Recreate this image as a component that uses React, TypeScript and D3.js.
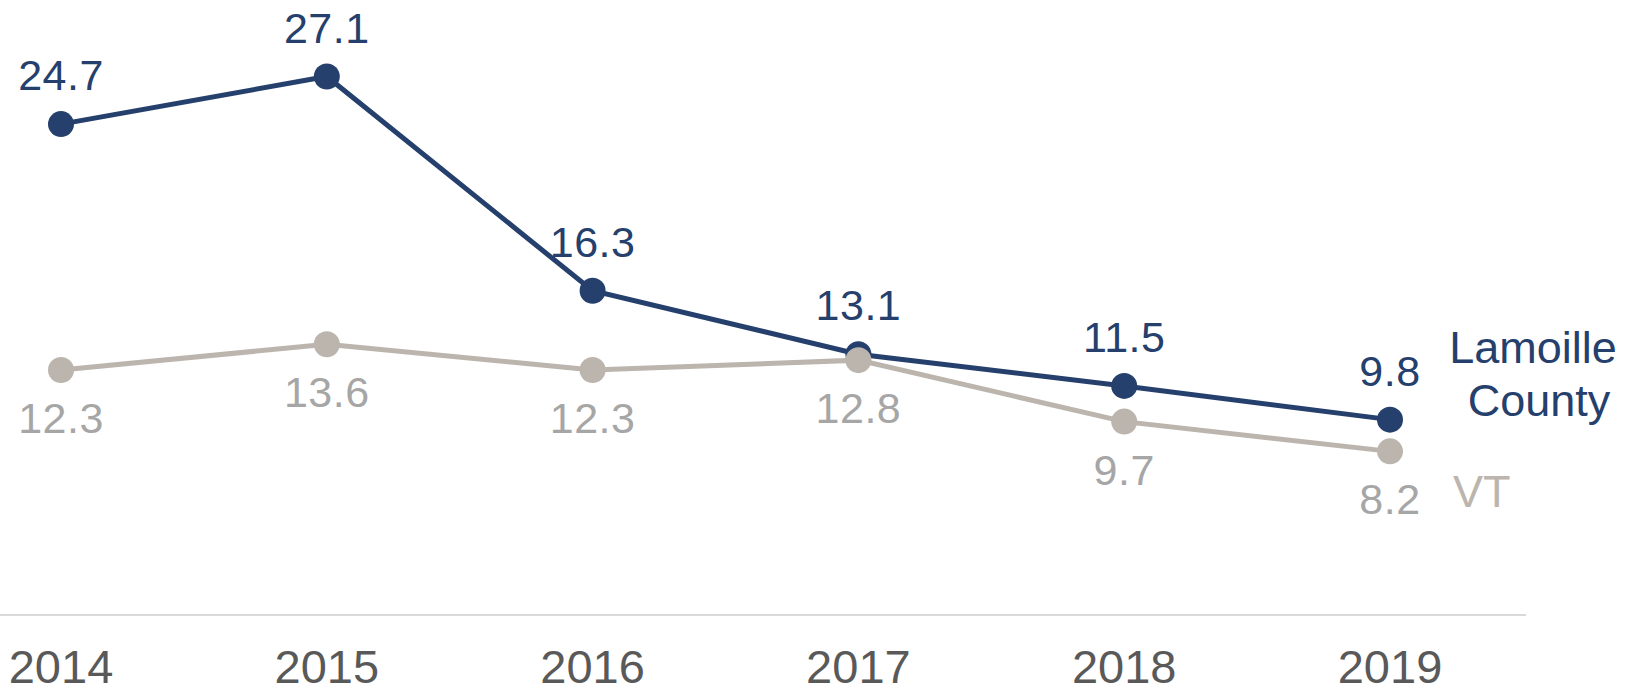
import React from "react";
import * as d3 from "d3";

const years = ["2014", "2015", "2016", "2017", "2018", "2019"];
const lamoille = [24.7, 27.1, 16.3, 13.1, 11.5, 9.8];
const vt = [12.3, 13.6, 12.3, 12.8, 9.7, 8.2];

const W = 1641;
const H = 694;
const NAVY = "#25406C";
const GRAY = "#BBB5AE";
const GRAY_TEXT = "#A6A6A6";
const FONT = "'Liberation Sans', Arial, sans-serif";

export default function App() {
  const x = d3.scalePoint<string>().domain(years).range([61, 1390]);
  const y = d3.scaleLinear().domain([0, 30]).range([614, 19]);
  const line = d3
    .line<number>()
    .x((_, i) => x(years[i]) as number)
    .y((d) => y(d));

  return (
    <svg
      width={W}
      height={H}
      style={{ position: "absolute", left: 0, top: 0, display: "block", background: "#fff" }}
      fontFamily={FONT}
    >
      <line x1={0} x2={1526} y1={y(0) + 1} y2={y(0) + 1} stroke="#D9D9D9" strokeWidth={2} />
      {years.map((yr) => (
        <text key={yr} x={x(yr)} y={683} textAnchor="middle" fontSize={47} fill="#595959">
          {yr}
        </text>
      ))}

      <path d={line(lamoille) || ""} fill="none" stroke={NAVY} strokeWidth={5} />
      {lamoille.map((v, i) => (
        <g key={"l" + i}>
          <circle cx={x(years[i])} cy={y(v)} r={13} fill={NAVY} />
          <text x={x(years[i])} y={y(v) - 34} textAnchor="middle" fontSize={43} fill={NAVY} letterSpacing={0.5}>
            {v.toFixed(1)}
          </text>
        </g>
      ))}

      <path d={line(vt) || ""} fill="none" stroke={GRAY} strokeWidth={5} />
      {vt.map((v, i) => (
        <g key={"v" + i}>
          <circle cx={x(years[i])} cy={y(v)} r={13} fill={GRAY} />
          <text x={x(years[i])} y={y(v) + 63} textAnchor="middle" fontSize={43} fill={GRAY_TEXT} letterSpacing={0.5}>
            {v.toFixed(1)}
          </text>
        </g>
      ))}

      <text x={1533} y={363} textAnchor="middle" fontSize={45} fill={NAVY}>
        Lamoille
      </text>
      <text x={1539} y={416} textAnchor="middle" fontSize={45} fill={NAVY}>
        County
      </text>
      <text x={1453} y={507} textAnchor="start" fontSize={45} fill={GRAY}>
        VT
      </text>
    </svg>
  );
}
